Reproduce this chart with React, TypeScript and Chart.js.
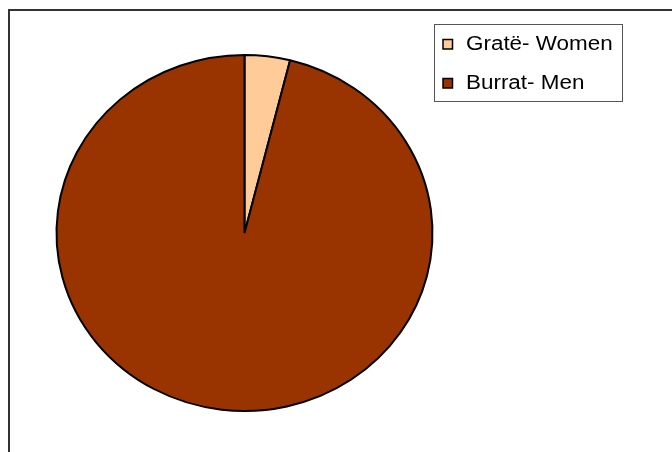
import React, { useEffect, useRef } from "react";
import { Chart, registerables } from "chart.js";

Chart.register(...registerables);

const categories = ["Gratë- Women", "Burrat- Men"];
const values = [3.9, 96.1];
const colors = ["#FFCC99", "#993300"];

const ellipsePlugin = {
  id: "ellipse",
  beforeDatasetsDraw(chart: any) {
    const ctx = chart.ctx;
    const a = chart.chartArea;
    const cx = (a.left + a.right) / 2;
    const cy = (a.top + a.bottom) / 2;
    ctx.save();
    ctx.translate(cx, cy);
    ctx.scale(1, 0.947);
    ctx.translate(-cx, -cy);
  },
  afterDatasetsDraw(chart: any) {
    chart.ctx.restore();
  },
};

const framePlugin = {
  id: "frameLegend",
  afterDraw(chart: any) {
    const ctx = chart.ctx;
    ctx.save();
    // outer frame
    ctx.strokeStyle = "#333333";
    ctx.lineWidth = 2;
    ctx.beginPath();
    ctx.moveTo(9, 700);
    ctx.lineTo(9, 10);
    ctx.lineTo(900, 10);
    ctx.stroke();
    // legend box
    ctx.strokeStyle = "#555555";
    ctx.lineWidth = 1;
    ctx.strokeRect(434.5, 24.5, 188, 77);
    const labels = chart.data.labels as string[];
    const bg = chart.data.datasets[0].backgroundColor as string[];
    ctx.font = "19.5px 'Liberation Sans', Arial, sans-serif";
    ctx.textBaseline = "alphabetic";
    labels.forEach((lab, i) => {
      const y = 49.5 + i * 39;
      ctx.fillStyle = bg[i];
      ctx.fillRect(443, y - 10, 9.5, 9.5);
      ctx.strokeStyle = "#000";
      ctx.lineWidth = 1.5;
      ctx.strokeRect(443, y - 10, 9.5, 9.5);
      ctx.fillStyle = "#000";
      ctx.save();
      ctx.translate(466, y);
      ctx.scale(1.15, 1);
      ctx.fillText(lab, 0, 0);
      ctx.restore();
    });
    ctx.restore();
  },
};

export default function App() {
  const ref = useRef<HTMLCanvasElement>(null);
  useEffect(() => {
    if (!ref.current) return;
    const chart = new Chart(ref.current, {
      type: "pie",
      data: {
        labels: categories,
        datasets: [
          {
            data: values,
            backgroundColor: colors,
            borderColor: "#000000",
            borderWidth: 2,
          },
        ],
      },
      options: {
        responsive: false,
        animation: false,
        radius: 188,
        layout: { padding: { left: 56, right: 239, top: 44, bottom: 30 } },
        plugins: {
          legend: { display: false },
          tooltip: { enabled: false },
        },
      } as any,
      plugins: [ellipsePlugin, framePlugin],
    });
    return () => chart.destroy();
  }, []);
  return (
    <div style={{ position: "fixed", left: 0, top: 0, width: 672, height: 452, background: "#fff" }}>
      <canvas ref={ref} width={672} height={452} style={{ width: 672, height: 452, display: "block" }} />
    </div>
  );
}
